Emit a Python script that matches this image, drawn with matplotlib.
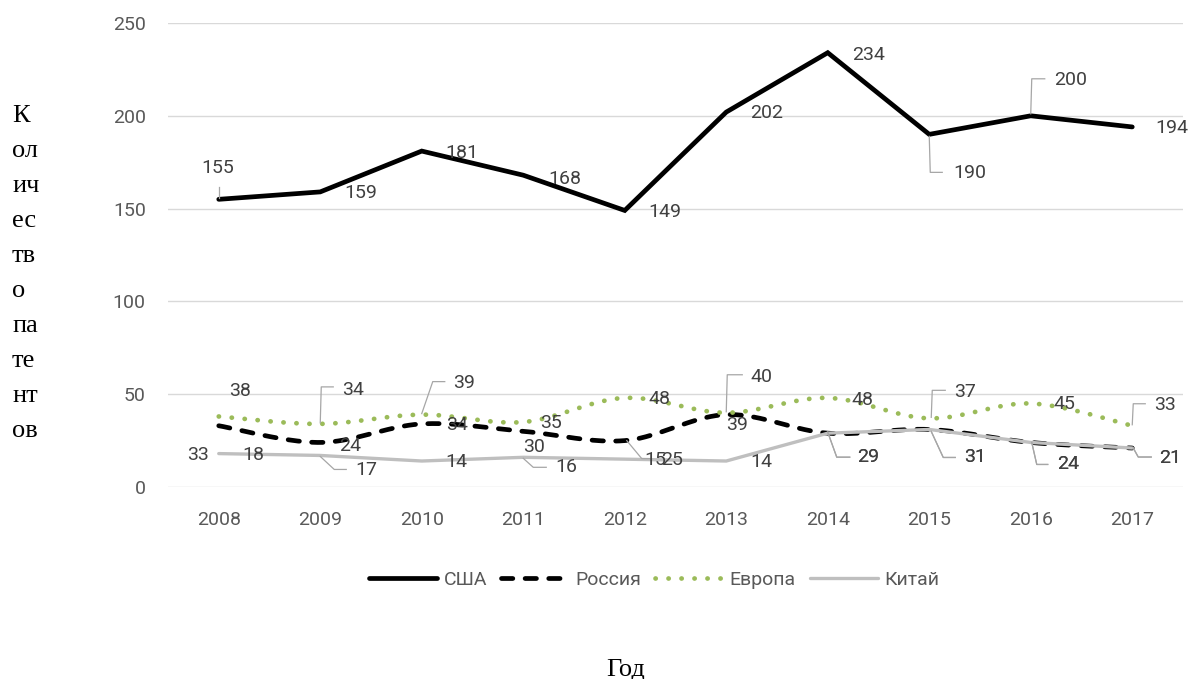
import numpy as np
import matplotlib
matplotlib.use("Agg")
import matplotlib.pyplot as plt
from matplotlib.lines import Line2D

# ---- data ----
years = ['2008', '2009', '2010', '2011', '2012', '2013', '2014', '2015', '2016', '2017']
usa = [155, 159, 181, 168, 149, 202, 234, 190, 200, 194]
russia = [33, 24, 34, 30, 25, 39, 29, 31, 24, 21]
europe = [38, 34, 39, 35, 48, 40, 48, 37, 45, 33]
china = [18, 17, 14, 16, 15, 14, 29, 31, 24, 21]
series_names = ['США', 'Россия', 'Европа', 'Китай']
y_ticks = [0, 50, 100, 150, 200, 250]
y_title = ['К', 'ол', 'ич', 'ес', 'тв', 'о', 'па', 'те', 'нт', 'ов']
x_title = 'Год'

# ---- label placement (pixel offsets from the point, +y is downward) ----
usa_lbl = [(-1, -31), (40, 1), (40, 2), (42, 4), (40, 2), (40, 1), (41, 2), (41, 39), (40, -36), (40, 1)]
usa_lead = {0: [(0, -1), (0, -12)], 7: [(0, 2), (1, 38), (13, 38)], 8: [(0, -2), (1, -37), (14, -37)]}
eur_lbl = [(21, -25), (33, -34), (42, -32), (28, 1), (35, 1), (35, -36), (35, 2), (36, -26), (34, 1), (33, -21)]
eur_lead = {1: [(0, -1), (1, -37), (13, -37)], 2: [(0, -1), (11, -33), (23, -33)],
            5: [(0, -1), (1, -38), (16, -38)], 7: [(2, -1), (3, -28), (16, -28)],
            9: [(0, -1), (1, -22), (13, -22)]}
rus_lbl = [(-21, 29), (30, 4), (35, 1), (11, 16), (47, 19), (11, 10), (40, 24), (46, 28), (37, 22), (38, 10)]
rus_lead = {4: [(2, 0), (17, 18), (25, 18)], 6: [(0, -1), (9, 24), (22, 24)],
            7: [(2, 2), (14, 28), (26, 28)], 8: [(1, 0), (6, 22), (17, 22)],
            9: [(1, 0), (6, 9), (19, 9)]}
chn_lbl = [(35, 1), (46, 15), (35, 1), (43, 10), (31, 1), (35, 1), (40, 24), (46, 28), (37, 22), (38, 10)]
chn_lead = {1: [(0, 1), (14, 14), (26, 14)], 3: [(0, 1), (10, 10), (23, 10)],
            6: [(0, -1), (9, 24), (22, 24)], 7: [(2, 2), (14, 28), (26, 28)],
            8: [(1, 0), (6, 22), (17, 22)], 9: [(1, 0), (6, 9), (19, 9)]}

SANS = ['Roboto', 'DejaVu Sans']
SERIF = ['Liberation Serif', 'DejaVu Serif']
plt.rcParams['font.family'] = SANS

W, H, DPI = 1196, 679, 100
fig = plt.figure(figsize=(W / DPI, H / DPI), dpi=DPI)
ax = fig.add_axes([168 / W, 1 - 487 / H, 1015 / W, 464 / H])
ax.set_xlim(-0.5, len(years) - 0.5)
ax.set_ylim(y_ticks[0], y_ticks[-1])

for s in ax.spines.values():
    s.set_visible(False)
ax.set_yticks(y_ticks)
ax.set_xticks(range(len(years)))
ax.set_xticklabels(years)
ax.tick_params(axis='both', length=0, labelsize=14, labelcolor='#595959')
ax.tick_params(axis='y', pad=16)
ax.tick_params(axis='x', pad=17)
for t in y_ticks:
    ax.axhline(t, color='#D9D9D9', lw=1.0, zorder=0)


def smooth(xs, ys, n=40):
    """Bezier smoothing through every point (control arms of 1/6 neighbour span)."""
    P = np.column_stack([xs, ys]).astype(float)
    out = [P[0]]
    for i in range(len(P) - 1):
        p0 = P[i - 1] if i > 0 else P[i]
        p1, p2 = P[i], P[i + 1]
        p3 = P[i + 2] if i + 2 < len(P) else P[i + 1]
        c1 = p1 + (p2 - p0) / 6
        c2 = p2 - (p3 - p1) / 6
        t = np.linspace(0, 1, n)[1:, None]
        seg = (1 - t) ** 3 * p1 + 3 * (1 - t) ** 2 * t * c1 + 3 * (1 - t) * t ** 2 * c2 + t ** 3 * p2
        out.extend(seg)
    return np.array(out)


x = np.arange(len(years))
DASH = (2.4, 2.6)
DOT = (0.05, 2.7)

ax.plot(x, usa, color='black', lw=3.4, solid_capstyle='round', solid_joinstyle='miter', zorder=3)
sr = smooth(x, russia)
ax.plot(sr[:, 0], sr[:, 1], color='black', lw=3.4, dashes=DASH, dash_capstyle='round', zorder=3)
se = smooth(x, europe)
ax.plot(se[:, 0], se[:, 1], color='#9BBB59', lw=3.4, dashes=DOT, dash_capstyle='round', zorder=3)
ax.plot(x, china, color='#BFBFBF', lw=2.4, solid_capstyle='round', solid_joinstyle='miter', zorder=4)

# pixel -> data conversion for leader lines
bb = ax.get_window_extent()
px_x = bb.width / (ax.get_xlim()[1] - ax.get_xlim()[0])
px_y = bb.height / (ax.get_ylim()[1] - ax.get_ylim()[0])


def labels(values, offs, leads):
    for i, v in enumerate(values):
        dx, dy = offs[i]
        ax.annotate(str(v), xy=(i, v), xytext=(dx, -dy), textcoords='offset pixels',
                    ha='center', va='center', fontsize=14, color='#404040', zorder=6)
        if i in leads:
            pts = leads[i]
            lx = [i + p[0] / px_x for p in pts]
            ly = [v - p[1] / px_y for p in pts]
            ax.plot(lx, ly, color='#A6A6A6', lw=0.9, zorder=5, clip_on=False)


labels(usa, usa_lbl, usa_lead)
labels(russia, rus_lbl, rus_lead)
labels(europe, eur_lbl, eur_lead)
labels(china, chn_lbl, chn_lead)

# legend
handles = [
    Line2D([], [], color='black', lw=3.4, solid_capstyle='round'),
    Line2D([], [], color='black', lw=3.4, dashes=DASH, dash_capstyle='round'),
    Line2D([], [], color='#9BBB59', lw=3.4, dashes=DOT, dash_capstyle='round'),
    Line2D([], [], color='#BFBFBF', lw=2.4, solid_capstyle='round'),
]
fig.legend(handles, series_names, loc='center', bbox_to_anchor=(654 / W, 1 - 580 / H),
           ncol=4, frameon=False, fontsize=14, labelcolor='#595959',
           handlelength=3.5, handletextpad=0.35, columnspacing=0.7)

# axis titles
for k, line in enumerate(y_title):
    fig.text(12 / W, 1 - (122 + 35 * k) / H, line, family=SERIF, fontsize=19,
             ha='left', va='baseline', color='black')
fig.text(626 / W, 1 - 676 / H, x_title, family=SERIF, fontsize=19,
         ha='center', va='baseline', color='black')

fig.savefig('out.png', dpi=DPI, facecolor='white')
